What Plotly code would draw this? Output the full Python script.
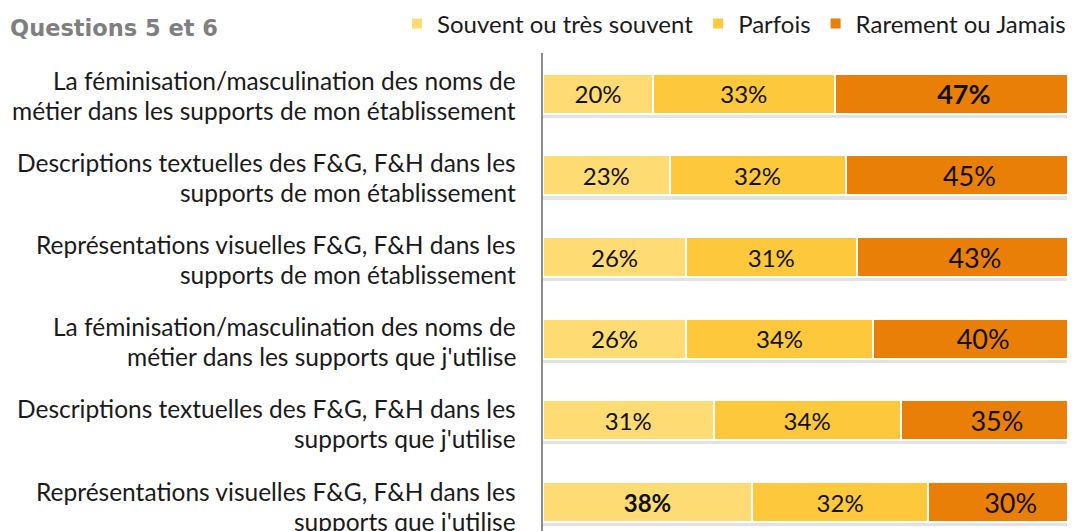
import plotly.graph_objects as go

categories = [
    "La féminisation/masculination des noms de<br>métier dans les supports de mon établissement",
    "Descriptions textuelles des F&G, F&H dans les<br>supports de mon établissement",
    "Représentations visuelles F&G, F&H dans les<br>supports de mon établissement",
    "La féminisation/masculination des noms de<br>métier dans les supports que j'utilise",
    "Descriptions textuelles des F&G, F&H dans les<br>supports que j'utilise",
    "Représentations visuelles F&G, F&H dans les<br>supports que j'utilise",
]
series_names = ["Souvent ou très souvent", "Parfois", "Rarement ou Jamais"]
souvent = [20, 23, 26, 26, 31, 38]
parfois = [33, 32, 31, 34, 34, 32]
rarement = [47, 45, 43, 40, 35, 30]
bold_souvent = [False, False, False, False, False, True]
bold_parfois = [False, False, False, False, False, False]
bold_rarement = [True, False, False, False, False, False]
title_text = "Questions 5 et 6"

colors = ["#FEDC73", "#FDC83C", "#E97F07"]
label_sizes = [24, 24, 27]

# page body has an 8px margin; figure coordinates are page coordinates minus 8
W, H = 1067, 523
ML, MT = 535, 45
PW, PH = W - ML, H - MT

y_idx = list(range(len(categories)))
fig = go.Figure()

# soft shadow under bars (drawn on base axis, beneath the bars)
totals = [a + b + c for a, b, c in zip(souvent, parfois, rarement)]
fig.add_trace(go.Bar(
    y=y_idx, x=totals, orientation="h", yaxis="y", width=0.49,
    marker=dict(color="rgba(0,0,0,0.11)", line=dict(width=0)),
    showlegend=False, hoverinfo="skip",
))

for name, vals, bolds, col, fs in zip(series_names, [souvent, parfois, rarement],
                                      [bold_souvent, bold_parfois, bold_rarement],
                                      colors, label_sizes):
    txt = [f"<b>{v}%</b>" if b else f"{v}%" for v, b in zip(vals, bolds)]
    fig.add_trace(go.Bar(
        y=y_idx, x=vals, name=name, orientation="h", width=0.49, yaxis="y2",
        marker=dict(color=col, line=dict(color="white", width=2)),
        text=txt, textposition="inside", insidetextanchor="middle",
        textangle=0, constraintext="none",
        textfont=dict(family="Lato", size=fs, color="#111111"),
        hoverinfo="skip",
    ))

# category labels, two lines each
for i, cat in enumerate(categories):
    lines = cat.split("<br>")
    for j, line in enumerate(lines):
        fig.add_annotation(
            x=0, xref="paper", y=i, yref="y2", text=line,
            xanchor="right", yanchor="middle", xshift=-25,
            yshift=(15 - 30 * j) - (1.5 + 0.5 * i),
            showarrow=False,
            font=dict(family="Lato", size=24.5, color="#1a1a1a"),
        )

fig.add_annotation(
    x=(0 - ML) / PW, xref="paper", y=(H - 20) / PH, yref="paper",
    text=f"<b>{title_text}</b>",
    xanchor="left", yanchor="middle", showarrow=False,
    font=dict(family="DejaVu Sans", size=22.5, color="#7f7f7f"),
)

fig.update_layout(
    width=W, height=H,
    margin=dict(l=ML, r=0, t=MT, b=0, autoexpand=False),
    barmode="stack", bargap=0.51,
    plot_bgcolor="white", paper_bgcolor="white",
    showlegend=True,
    legend=dict(orientation="h", xref="paper", yref="paper",
                x=(389 - ML) / PW, xanchor="left", y=(H - 16) / PH, yanchor="middle",
                font=dict(family="Lato", size=24, color="#1a1a1a"),
                itemwidth=30, tracegroupgap=0, traceorder="normal",
                bgcolor="rgba(0,0,0,0)"),
    xaxis=dict(range=[0, 96.7], showgrid=False, zeroline=False, showticklabels=False,
               showline=False, fixedrange=True),
    yaxis=dict(range=[5.305, -0.55], showgrid=False, zeroline=False, showticklabels=False,
               showline=True, linecolor="#8c8c8c", linewidth=2, ticks=""),
    yaxis2=dict(range=[5.355, -0.5], overlaying="y", showgrid=False, zeroline=False,
                showticklabels=False, showline=False, visible=False),
)

fig.write_html("out.html")
